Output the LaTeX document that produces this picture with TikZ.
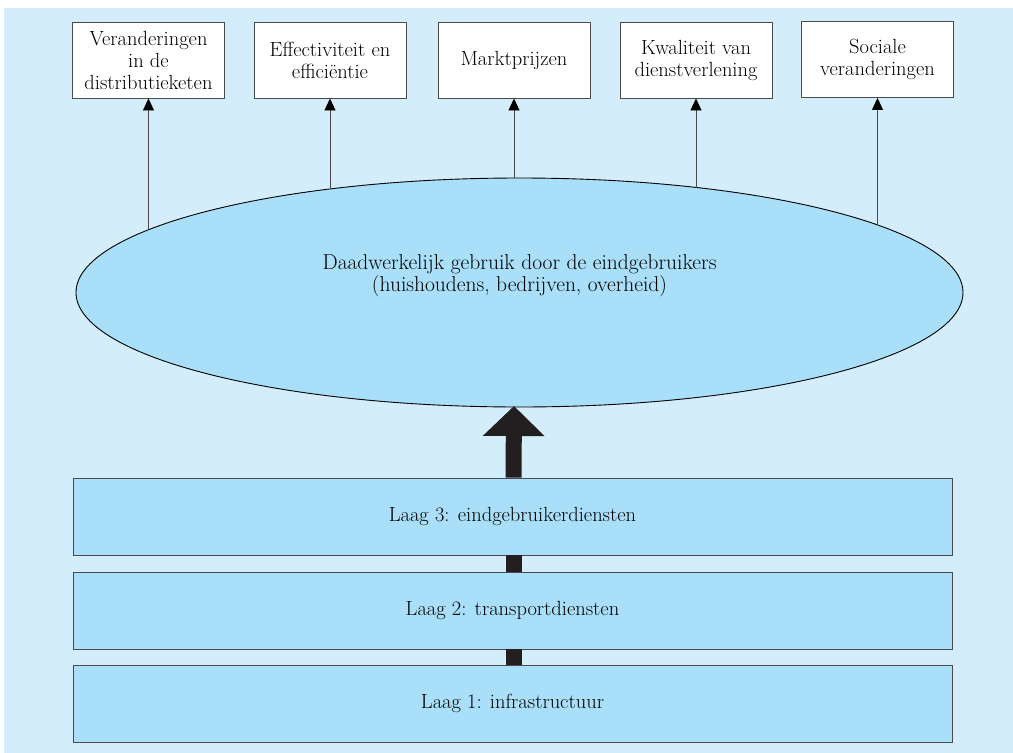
\documentclass[tikz,border=0pt]{standalone}
\usetikzlibrary{arrows.meta,shapes.geometric}
\definecolor{bgblue}{HTML}{D3EEFA}
\definecolor{fillblue}{HTML}{A9DFF8}
\definecolor{darkarrow}{HTML}{231F20}
\definecolor{linegray}{HTML}{4A4A4A}
\tikzset{
  topbox/.style={draw=linegray, line width=0.9pt, fill=white, minimum width=152pt, minimum height=76pt, inner sep=0pt, align=center, font=\fontsize{20.5}{22}\selectfont},
  layerbox/.style={draw=linegray, line width=0.9pt, fill=fillblue, minimum width=879pt, minimum height=77pt, inner sep=0pt, font=\fontsize{20.5}{22}\selectfont},
  thinarrow/.style={draw=linegray, line width=0.9pt, -{Triangle[width=11pt,length=12pt,color=black]}},
  thickshaft/.style={draw=darkarrow, line width=16pt},
}
\begin{document}
\begin{tikzpicture}[x=1pt,y=-1pt]
\useasboundingbox (0,0) rectangle (1013,753);
\fill[bgblue] (4,8) rectangle (1013,753);

\node[topbox] (b1) at (148.5,60) {Veranderingen\\in de\\distributieketen};
\node[topbox] (b2) at (330,60) {Effectiviteit en\\effici\"entie};
\node[topbox] (b3) at (514,60) {Marktprijzen};
\node[topbox] (b4) at (696,60) {Kwaliteit van\\dienstverlening};
\node[topbox] (b5) at (877.5,59.5) {Sociale\\veranderingen};

\node[ellipse, draw=black, line width=0.9pt, fill=fillblue, minimum width=887pt, minimum height=229pt, inner sep=0pt, align=center, font=\fontsize{21.5}{22}\selectfont] (ell) at (519.5,292.5) {Daadwerkelijk gebruik door de eindgebruikers\\(huishoudens, bedrijven, overheid)\\[16pt]\mbox{}};

\coordinate (e1) at (148.5,229.6);
\coordinate (e2) at (330,189);
\coordinate (e3) at (514,178.2);
\coordinate (e4) at (696,187.5);
\coordinate (e5) at (877.5,224.9);
\draw[thinarrow] (e1) -- (b1.south);
\draw[thinarrow] (e2) -- (b2.south);
\draw[thinarrow] (e3) -- (b3.south);
\draw[thinarrow] (e4) -- (b4.south);
\draw[thinarrow] (e5) -- (b5.south);

\node[layerbox] (l3) at (512.5,516.5) {Laag 3: eindgebruikerdiensten};
\node[layerbox] (l2) at (512.5,610.5) {Laag 2: transportdiensten};
\node[layerbox] (l1) at (512.5,703.5) {Laag 1: infrastructuur};

\coordinate (l3top) at ([xshift=1pt]l3.north);
\coordinate (elbot) at (514,406);
\draw[thickshaft, -{Triangle[width=60pt,length=30pt]}] (l3top) -- (elbot);
\draw[thickshaft] ([xshift=1pt]l2.north) -- ([xshift=1pt]l3.south);
\draw[thickshaft] ([xshift=1pt]l1.north) -- ([xshift=1pt]l2.south);
\end{tikzpicture}
\end{document}
